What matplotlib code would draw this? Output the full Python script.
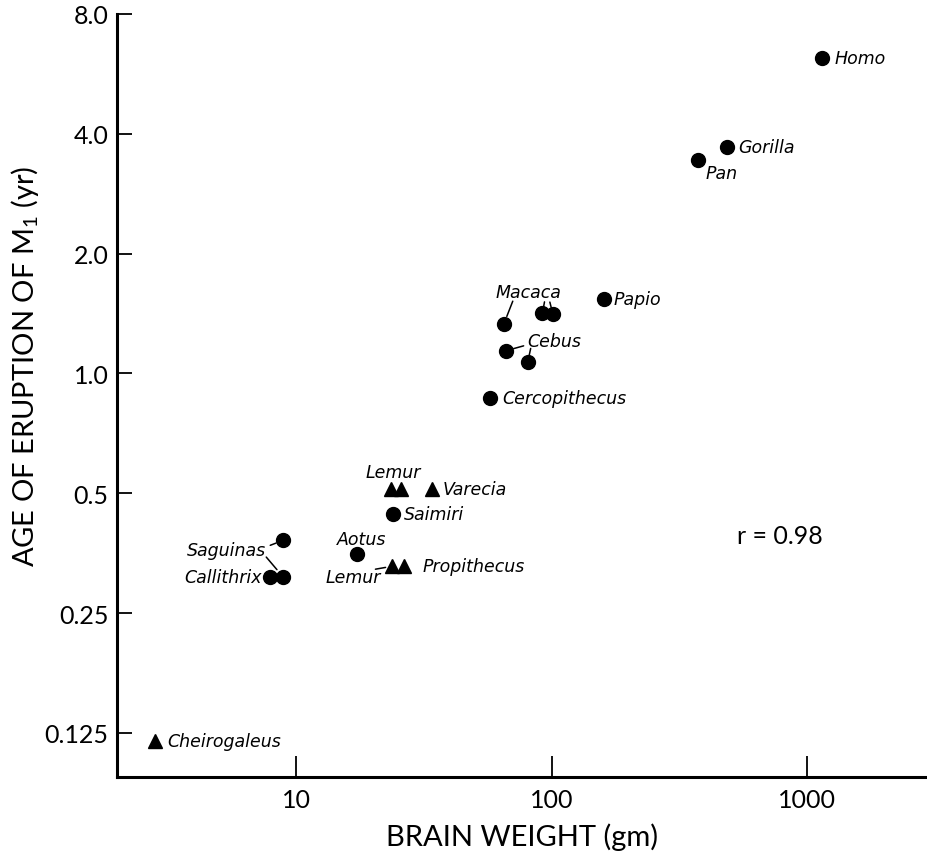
import matplotlib
matplotlib.use("Agg")
import matplotlib.pyplot as plt

plt.rcParams['font.family'] = ['Lato', 'DejaVu Sans']
plt.rcParams['mathtext.fontset'] = 'custom'
plt.rcParams['mathtext.rm'] = 'Lato'
plt.rcParams['mathtext.default'] = 'rm'

# ---- data (brain weight g, age of M1 eruption yr) ----
circle_names = ["Homo", "Gorilla", "Pan", "Papio",
                "Macaca1", "Macaca2", "Macaca3",
                "Cebus1", "Cebus2", "Cercopithecus",
                "Saimiri", "Aotus", "Saguinas",
                "Callithrix1", "Callithrix2"]
circle_brain = [1146, 487, 372, 160,
                64.9, 92, 101,
                66, 80.5, 57.2,
                24.0, 17.3, 8.9,
                7.9, 8.9]
circle_age = [6.2, 3.71, 3.44, 1.54,
              1.33, 1.42, 1.41,
              1.14, 1.066, 0.87,
              0.443, 0.351, 0.381,
              0.308, 0.308]

tri_names = ["LemurA1", "LemurA2", "Varecia", "LemurB1", "Propithecus", "Cheirogaleus"]
tri_brain = [23.4, 25.6, 34.1, 23.8, 26.5, 2.80]
tri_age = [0.512, 0.512, 0.512, 0.328, 0.328, 0.119]

xticks = [10, 100, 1000]
xticklabels = ["10", "100", "1000"]
yticks = [0.125, 0.25, 0.5, 1.0, 2.0, 4.0, 8.0]
yticklabels = ["0.125", "0.25", "0.5", "1.0", "2.0", "4.0", "8.0"]
r_text = "r = 0.98"

fig = plt.figure(figsize=(9.27, 8.53), dpi=100)
ax = fig.add_axes([117/927, 75/853, 810/927, 763/853])
ax.set_xscale('log')
ax.set_yscale('log', base=2)
ax.set_xlim(1.99, 2940)
ax.set_ylim(0.0969, 8.0)

ax.plot(circle_brain, circle_age, 'o', color='black', ms=10, ls='none', clip_on=False)
ax.plot(tri_brain, tri_age, '^', color='black', ms=10, ls='none', clip_on=False)

for s in ['top', 'right']:
    ax.spines[s].set_visible(False)
for s in ['left', 'bottom']:
    ax.spines[s].set_linewidth(2.2)

ax.set_xticks(xticks)
ax.set_xticklabels(xticklabels)
ax.set_yticks(yticks)
ax.set_yticklabels(yticklabels)
ax.minorticks_off()
ax.tick_params(axis='both', direction='in', width=1.3, labelsize=18)
ax.tick_params(axis='y', length=11, pad=6)
ax.tick_params(axis='x', length=15, pad=8)

ax.set_xlabel("BRAIN WEIGHT (gm)", fontsize=21, labelpad=8)
ax.set_ylabel("AGE OF ERUPTION OF M$_1$ (yr)", fontsize=21)
ax.yaxis.set_label_coords(-0.094, 0.54)

C = dict(zip(circle_names, zip(circle_brain, circle_age)))
T = dict(zip(tri_names, zip(tri_brain, tri_age)))

lab_kw = dict(textcoords='offset pixels', fontsize=12.5, style='italic',
              va='center', family=['DejaVu Sans'])

def label(text, pt, dx, dy, ha='left'):
    ax.annotate(text, xy=pt, xytext=(dx, dy), ha=ha, **lab_kw)

def leader(pt, dx, dy, shrink=6):
    ax.annotate('', xy=pt, xytext=(dx, dy), textcoords='offset pixels',
                arrowprops=dict(arrowstyle='-', lw=1.1, color='black',
                                shrinkA=0, shrinkB=shrink))

label("Homo", C["Homo"], 12, 0)
label("Gorilla", C["Gorilla"], 11, 0)
label("Pan", C["Pan"], 8, -13)
label("Papio", C["Papio"], 10, 0)
label("Macaca", C["Macaca1"], 25, 32, ha='center')
leader(C["Macaca1"], 9, 23, 6)
leader(C["Macaca2"], 2, 11, 4.5)
leader(C["Macaca3"], -3, 12, 4.5)
label("Cebus", C["Cebus1"], 22, 10)
leader(C["Cebus1"], 18, 5, 6)
leader(C["Cebus2"], 3, 14, 5)
label("Cercopithecus", C["Cercopithecus"], 13, 0)
label("Lemur", T["LemurA1"], 3, 17, ha='center')
label("Varecia", T["Varecia"], 10, 0)
label("Saimiri", C["Saimiri"], 11, 0)
label("Aotus", C["Aotus"], 5, 15, ha='center')
label("Lemur", T["LemurB1"], -39, -11, ha='center')
leader(T["LemurB1"], -17, -3, 5)
label("Propithecus", T["Propithecus"], 18, 0)
label("Saguinas", C["Saguinas"], -17, -10, ha='right')
leader(C["Saguinas"], -13, -5, 5.5)
label("Callithrix", C["Callithrix1"], -8, 0, ha='right')
leader(C["Callithrix2"], -17, 20, 7)
label("Cheirogaleus", T["Cheirogaleus"], 12, 0)

ax.text(0.765, 0.316, r_text, transform=ax.transAxes, fontsize=18, va='center')

fig.savefig("out.png", dpi=100)
